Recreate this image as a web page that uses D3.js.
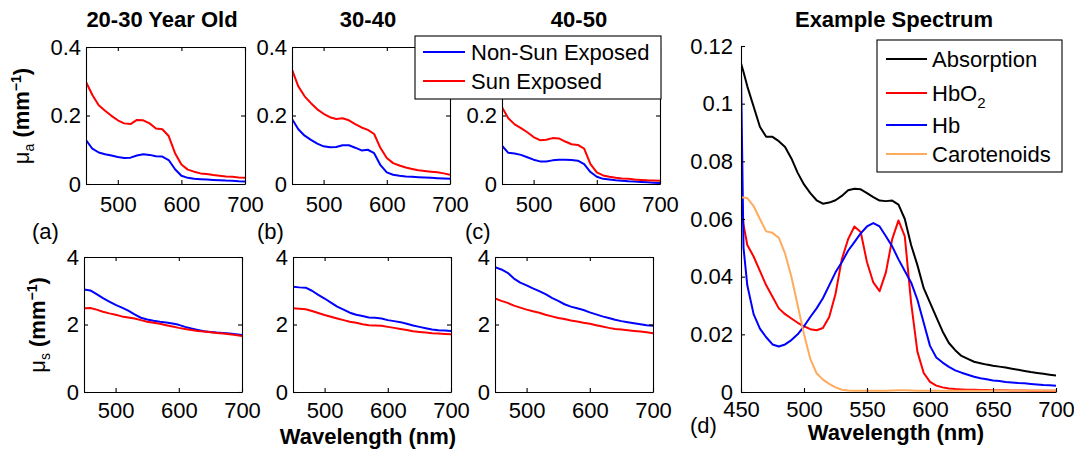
<!DOCTYPE html>
<html><head><meta charset="utf-8">
<script src="https://cdn.jsdelivr.net/npm/d3@7"></script>
<style>
body{margin:0;background:#fff}
text{font-family:"Liberation Sans",Arial,Helvetica,sans-serif;fill:#000}
</style>
</head><body>
<svg id="c" width="1074" height="452"></svg>
<script>
// ---------- DATA ----------
const wavelengths = [450,460,470,480,490,500,510,520,530,540,550,560,570,580,590,600,610,620,630,640,650,660,670,680,690,700];

// mu_a (mm^-1)
const muA_2030_nonSun = [0.128,0.103,0.092,0.087,0.083,0.079,0.076,0.077,0.083,0.087,0.085,0.081,0.08,0.07,0.043,0.024,0.018,0.015,0.014,0.013,0.012,0.011,0.01,0.0095,0.008,0.007];
const muA_2030_sun    = [0.298,0.26,0.23,0.214,0.199,0.186,0.177,0.175,0.187,0.186,0.177,0.162,0.16,0.14,0.09,0.057,0.042,0.036,0.031,0.029,0.026,0.024,0.022,0.021,0.019,0.018];
const muA_3040_nonSun = [0.19,0.16,0.141,0.129,0.118,0.11,0.107,0.108,0.113,0.113,0.106,0.098,0.1,0.09,0.055,0.034,0.027,0.024,0.022,0.021,0.02,0.019,0.018,0.017,0.016,0.015];
const muA_3040_sun    = [0.334,0.285,0.256,0.236,0.218,0.205,0.195,0.19,0.192,0.186,0.175,0.165,0.158,0.146,0.105,0.076,0.061,0.054,0.048,0.044,0.04,0.038,0.036,0.034,0.031,0.027];
const muA_4050_nonSun = [0.112,0.091,0.089,0.085,0.078,0.071,0.066,0.066,0.069,0.071,0.071,0.07,0.068,0.058,0.035,0.021,0.015,0.013,0.011,0.0095,0.008,0.007,0.006,0.005,0.004,0.003];
const muA_4050_sun    = [0.224,0.192,0.174,0.163,0.151,0.137,0.128,0.129,0.134,0.133,0.124,0.116,0.114,0.103,0.058,0.034,0.025,0.021,0.018,0.016,0.015,0.013,0.012,0.011,0.0105,0.0098];

// mu_s (mm^-1)
const muS_2030_nonSun = [3.04,3.01,2.9,2.78,2.68,2.58,2.5,2.41,2.3,2.2,2.15,2.11,2.08,2.06,2.03,1.99,1.93,1.88,1.84,1.8,1.78,1.76,1.75,1.73,1.71,1.69];
const muS_2030_sun    = [2.48,2.49,2.44,2.38,2.33,2.29,2.24,2.21,2.18,2.13,2.08,2.05,2.02,1.98,1.94,1.9,1.87,1.84,1.81,1.79,1.77,1.75,1.73,1.71,1.69,1.66];
const muS_3040_nonSun = [3.12,3.1,3.09,3.0,2.88,2.77,2.65,2.53,2.44,2.35,2.29,2.25,2.21,2.2,2.18,2.13,2.1,2.07,2.02,1.97,1.93,1.89,1.85,1.83,1.82,1.81];
const muS_3040_sun    = [2.48,2.47,2.45,2.4,2.34,2.28,2.23,2.18,2.13,2.08,2.05,2.01,1.98,1.97,1.96,1.93,1.9,1.87,1.84,1.8,1.78,1.76,1.74,1.73,1.72,1.71];
const muS_4050_nonSun = [3.7,3.63,3.53,3.36,3.24,3.16,3.07,2.99,2.9,2.79,2.7,2.6,2.53,2.48,2.43,2.36,2.3,2.24,2.19,2.14,2.1,2.07,2.04,2.01,1.98,1.96];
const muS_4050_sun    = [2.77,2.7,2.64,2.56,2.5,2.44,2.39,2.35,2.29,2.24,2.19,2.16,2.12,2.09,2.05,2.02,1.98,1.94,1.9,1.87,1.85,1.83,1.81,1.79,1.77,1.74];

// Example spectrum
const wavelengthsD = [450,452,455,460,465,470,475,480,485,490,495,500,505,510,515,520,525,530,535,540,545,550,555,560,565,570,575,580,585,590,595,600,605,610,615,620,625,630,635,640,645,650,655,660,665,670,675,680,685,690,695,700];
const absorption = [0.114,0.111,0.106,0.099,0.092,0.0885,0.0885,0.087,0.085,0.081,0.076,0.072,0.069,0.0665,0.0653,0.0657,0.0665,0.068,0.070,0.0705,0.0703,0.069,0.0676,0.0664,0.0662,0.0664,0.065,0.060,0.051,0.044,0.036,0.031,0.026,0.021,0.017,0.0145,0.0125,0.0115,0.0105,0.0100,0.0095,0.0091,0.0088,0.0085,0.0081,0.0077,0.0073,0.0069,0.0066,0.0063,0.0060,0.0057];
const hbO2 = [0.067,0.058,0.051,0.047,0.042,0.037,0.033,0.029,0.027,0.0255,0.024,0.0228,0.0218,0.0214,0.0222,0.026,0.034,0.046,0.053,0.0574,0.0555,0.045,0.038,0.035,0.0415,0.053,0.0595,0.054,0.031,0.014,0.0066,0.0035,0.0022,0.0016,0.0012,0.001,0.0009,0.0008,0.0008,0.0007,0.0007,0.0006,0.0006,0.0006,0.0005,0.0005,0.0005,0.0004,0.0004,0.0004,0.0004,0.0004];
const hb = [0.111,0.05,0.037,0.027,0.022,0.019,0.0165,0.0158,0.0165,0.018,0.020,0.0228,0.026,0.029,0.0325,0.037,0.0415,0.045,0.049,0.052,0.055,0.0574,0.0586,0.0574,0.054,0.0505,0.046,0.042,0.038,0.032,0.024,0.016,0.012,0.0102,0.0087,0.0075,0.0067,0.006,0.0053,0.0048,0.0044,0.004,0.0038,0.0035,0.0033,0.0031,0.003,0.0028,0.0026,0.0024,0.0023,0.0022];
const carotenoids = [0.0675,0.0675,0.0672,0.0645,0.060,0.0557,0.0552,0.0535,0.048,0.040,0.030,0.020,0.0115,0.0065,0.0043,0.0028,0.0016,0.0008,0.0005,0.0004,0.0004,0.0004,0.0004,0.0004,0.0004,0.0005,0.0006,0.0006,0.0005,0.0004,0.0004,0.0004,0.0004,0.0004,0.0004,0.0004,0.0004,0.0004,0.0004,0.0004,0.0004,0.0005,0.0005,0.0005,0.0005,0.0005,0.0005,0.0005,0.0005,0.0005,0.0005,0.0005];

const titles = ["20-30 Year Old","30-40","40-50","Example Spectrum"];
const panelLetters = ["(a)","(b)","(c)","(d)"];
const ticksA = [0,0.2,0.4];
const ticksS = [0,2,4];
const ticksX = [500,600,700];
const ticksDX = [450,500,550,600,650,700];
const ticksDY = [0,0.02,0.04,0.06,0.08,0.1,0.12];
const legend1 = ["Non-Sun Exposed","Sun Exposed"];
const legend2 = ["Absorption","HbO2","Hb","Carotenoids"];

const BLUE="#0000ff", RED="#ff0000", BLACK="#000000", ORANGE="#ffab5e";
const FS = 22;

// ---------- DRAW ----------
const svg = d3.select("#c");
let clipN = 0;

function panel(cfg){
  const x = d3.scaleLinear().domain(cfg.xDomain).range([cfg.x0,cfg.x1]);
  const y = d3.scaleLinear().domain(cfg.yDomain).range([cfg.y1,cfg.y0]);
  const g = svg.append("g");
  const id = "clip"+(clipN++);
  g.append("clipPath").attr("id",id).append("rect")
    .attr("x",cfg.x0).attr("y",cfg.y0-1).attr("width",cfg.x1-cfg.x0).attr("height",cfg.y1-cfg.y0+1);
  const line = d3.line().x(d=>x(d[0])).y(d=>y(d[1]));
  cfg.series.forEach(s=>{
    g.append("path").attr("clip-path",`url(#${id})`)
      .datum(s.wl.map((w,i)=>[w,s.v[i]]))
      .attr("d",line).attr("fill","none").attr("stroke",s.color)
      .attr("stroke-width",2).attr("stroke-linejoin","round");
  });
  const style = a=>{
    a.selectAll("path").attr("stroke","#000").attr("stroke-width",1.1);
    a.selectAll("line").attr("stroke","#000").attr("stroke-width",1.1);
    a.selectAll("text").style("font-size",FS+"px").attr("fill","#000");
  };
  g.append("g").attr("transform",`translate(0,${cfg.y1})`)
    .call(d3.axisBottom(x).tickValues(cfg.xTicks).tickSize(-4).tickSizeOuter(0).tickPadding(cfg.xPad).tickFormat(d3.format("d")))
    .call(style);
  g.append("g").attr("transform",`translate(${cfg.x0},0)`)
    .call(d3.axisLeft(y).tickValues(cfg.yTicks).tickSize(-4).tickSizeOuter(0).tickPadding(cfg.yPad).tickFormat(cfg.yFmt))
    .call(style);
  if(cfg.box){
    g.append("g").attr("transform",`translate(0,${cfg.y0})`)
      .call(d3.axisTop(x).tickValues(cfg.xTicks).tickSize(-4).tickSizeOuter(0).tickFormat(""))
      .call(style);
    g.append("g").attr("transform",`translate(${cfg.x1},0)`)
      .call(d3.axisRight(y).tickValues(cfg.yTicks).tickSize(-4).tickSizeOuter(0).tickFormat(""))
      .call(style);
  }
  g.selectAll(".domain").attr("fill","none");
  return {x,y};
}

const fmtA = d=> d===0?"0":d3.format(".1f")(d);
const fmtAhidden = d=> d===0?"0":(d>=0.4?"":d3.format(".1f")(d)); // 0.4 label sits under the legend
const fmtS = d3.format("d");
const fmtD = d=> d===0?"0":String(d);

const topBoxes = [[86,245],[292,450],[502,660]];
const botBoxes = [[84,242],[293,451],[495,653]];
const topSeries = [[muA_2030_nonSun,muA_2030_sun],[muA_3040_nonSun,muA_3040_sun],[muA_4050_nonSun,muA_4050_sun]];
const botSeries = [[muS_2030_nonSun,muS_2030_sun],[muS_3040_nonSun,muS_3040_sun],[muS_4050_nonSun,muS_4050_sun]];

topBoxes.forEach((b,i)=>{
  panel({x0:b[0],x1:b[1],y0:47,y1:184,xDomain:[450,700],yDomain:[0,0.4],
    xTicks:ticksX,yTicks:ticksA,yFmt:(i===2?fmtAhidden:fmtA),box:true,xPad:12,yPad:5,
    series:[{wl:wavelengths,v:topSeries[i][0],color:BLUE},{wl:wavelengths,v:topSeries[i][1],color:RED}]});
});
botBoxes.forEach((b,i)=>{
  panel({x0:b[0],x1:b[1],y0:257,y1:392,xDomain:[450,700],yDomain:[0,4],
    xTicks:ticksX,yTicks:ticksS,yFmt:fmtS,box:true,xPad:10,yPad:5,
    series:[{wl:wavelengths,v:botSeries[i][0],color:BLUE},{wl:wavelengths,v:botSeries[i][1],color:RED}]});
});
panel({x0:741,x1:1056,y0:46,y1:392,xDomain:[450,700],yDomain:[0,0.12],
  xTicks:ticksDX,yTicks:ticksDY,yFmt:fmtD,box:false,xPad:9,yPad:8,
  series:[{wl:wavelengthsD,v:absorption,color:BLACK},{wl:wavelengthsD,v:hbO2,color:RED},
          {wl:wavelengthsD,v:hb,color:BLUE},{wl:wavelengthsD,v:carotenoids,color:ORANGE}]});

// titles
const titleX = [162,368,579,894];
titles.forEach((t,i)=>{
  svg.append("text").attr("x",titleX[i]).attr("y",27).attr("text-anchor","middle")
    .style("font-size",FS+"px").style("font-weight","bold").text(t);
});
// panel letters
const letterPos = [[32,239],[257,239],[465,239],[690,433]];
panelLetters.forEach((t,i)=>{
  svg.append("text").attr("x",letterPos[i][0]).attr("y",letterPos[i][1])
    .style("font-size",FS+"px").text(t);
});
// x labels
[[368,444],[896,440]].forEach(p=>{
  svg.append("text").attr("x",p[0]).attr("y",p[1]).attr("text-anchor","middle")
    .style("font-size",FS+"px").style("font-weight","bold").text("Wavelength (nm)");
});
// y labels
function yLabel(cx,cy,sub){
  const t = svg.append("text").attr("transform",`translate(${cx},${cy}) rotate(-90)`)
    .attr("text-anchor","middle").style("font-size",FS+"px");
  t.append("tspan").text("μ");
  t.append("tspan").attr("dy",5).style("font-size","14px").text(sub);
  t.append("tspan").attr("dy",-5).style("font-weight","bold").text(" (mm");
  t.append("tspan").attr("dy",-8).style("font-size","14px").style("font-weight","bold").text("−1");
  t.append("tspan").attr("dy",8).style("font-weight","bold").text(")");
}
yLabel(29,116,"a");
yLabel(45,325,"s");

// legend 1
const lg1 = svg.append("g");
lg1.append("rect").attr("x",415).attr("y",36).attr("width",246).attr("height",63)
  .attr("fill","#fff").attr("stroke","#000").attr("stroke-width",1.1);
[BLUE,RED].forEach((c,i)=>{
  const yy = [52,81][i];
  lg1.append("line").attr("x1",423).attr("x2",465).attr("y1",yy).attr("y2",yy).attr("stroke",c).attr("stroke-width",2);
  lg1.append("text").attr("x",471).attr("y",yy+8).style("font-size","22px").text(legend1[i]);
});
// legend 2
const lg2 = svg.append("g");
lg2.append("rect").attr("x",877).attr("y",40).attr("width",185).attr("height",132)
  .attr("fill","#fff").attr("stroke","#000").attr("stroke-width",1.1);
[BLACK,RED,BLUE,ORANGE].forEach((c,i)=>{
  const yy = [59,93,125,154][i];
  lg2.append("line").attr("x1",886).attr("x2",927).attr("y1",yy).attr("y2",yy).attr("stroke",c).attr("stroke-width",2);
  const t = lg2.append("text").attr("x",932).attr("y",yy+8).style("font-size","22px");
  if(legend2[i]==="HbO2"){
    t.append("tspan").text("HbO");
    t.append("tspan").attr("dy",7).style("font-size","15px").text("2");
  } else t.text(legend2[i]);
});
</script>
</body></html>
